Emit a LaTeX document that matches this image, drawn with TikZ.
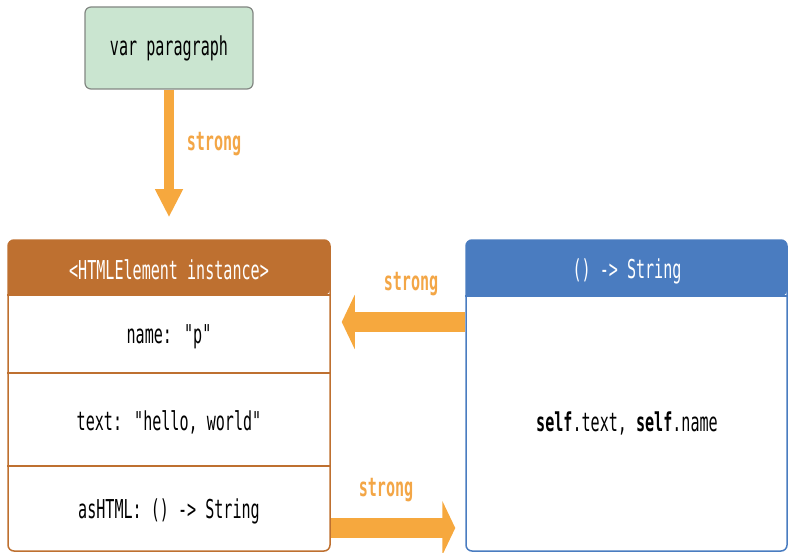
\documentclass[tikz,border=0pt]{standalone}
\usepackage{fontspec}
\setmainfont{DejaVu Sans Mono}[FakeStretch=0.58, Ligatures=TeXOff]
\usetikzlibrary{arrows.meta}
\definecolor{gfill}{RGB}{202,229,208}
\definecolor{gline}{RGB}{130,135,130}
\definecolor{brownh}{RGB}{190,112,48}
\definecolor{blueh}{RGB}{74,124,192}
\definecolor{orng}{RGB}{246,168,62}
\definecolor{lbl}{RGB}{243,166,70}
\tikzset{
  txt/.style={font=\fontsize{26}{30}\selectfont, inner sep=0pt},
  hdr/.style={txt, text=white},
  lab/.style={font=\fontsize{26}{30}\selectfont\bfseries, text=lbl, inner sep=0pt},
  greenbox/.style={draw=gline, fill=gfill, line width=1.2pt, rounded corners=6pt, minimum width=168pt, minimum height=82pt, txt},
  instbox/.style={draw=brownh, line width=1.5pt, rounded corners=6pt, minimum width=322pt, minimum height=311pt},
  fnbox/.style={draw=blueh, line width=1.5pt, rounded corners=6pt, minimum width=321pt, minimum height=311pt},
  thin arrow/.style={draw=orng, line width=9.5pt, -{Triangle[width=26pt,length=28pt]}},
  fat arrow/.style={draw=orng, line width=20pt, -{Triangle[width=54pt,length=13pt]}},
}
\begin{document}
\begin{tikzpicture}[x=1pt,y=-1pt]
\useasboundingbox (0,0) rectangle (791,553);
% headers
\fill[brownh] (8,295) [rounded corners=6pt] |- (169,240) -| (330,295) [sharp corners] -- cycle;
\fill[blueh] (466,296) [rounded corners=6pt] |- (626,240) -| (787,296) [sharp corners] -- cycle;
\node[instbox] (inst) at (169,395.5) {};
\node[fnbox] (fn) at (626.5,395.5) {};
\draw[brownh, line width=1.2pt] (inst.west |- 0,295) -- (inst.east |- 0,295);
\draw[brownh, line width=1.2pt] (inst.west |- 0,373) -- (inst.east |- 0,373);
\draw[brownh, line width=1.2pt] (inst.west |- 0,466) -- (inst.east |- 0,466);
\draw[blueh, line width=1.2pt] (fn.west |- 0,296) -- (fn.east |- 0,296);
% texts
\node[greenbox] (var) at (169,48) {var paragraph};
\node[hdr] (ih) at (169,270) {<HTMLElement instance>};
\node[txt] (nm) at (169,337) {name: "p"};
\node[txt] (tx) at (169,422) {text: "hello, world"};
\node[txt] (as) at (169,511) {asHTML: () -> String};
\node[hdr] (fh) at (627,271) {() -> String};
\node[txt] (body) at (627,423) {\textbf{self}.text, \textbf{self}.name};
% arrows
\draw[thin arrow, shorten >=22pt] (var.south) -- (inst.north -| var.south);
\draw[fat arrow, shorten >=11pt] (fn.west |- 0,322) -- (inst.east |- 0,322);
\draw[fat arrow, shorten >=10pt] (inst.east |- 0,528) -- (fn.west |- 0,528);
% labels
\node[lab] (l1) at (214,144) {strong};
\node[lab] (l2) at (411,284) {strong};
\node[lab] (l3) at (386,490) {strong};
\end{tikzpicture}
\end{document}
